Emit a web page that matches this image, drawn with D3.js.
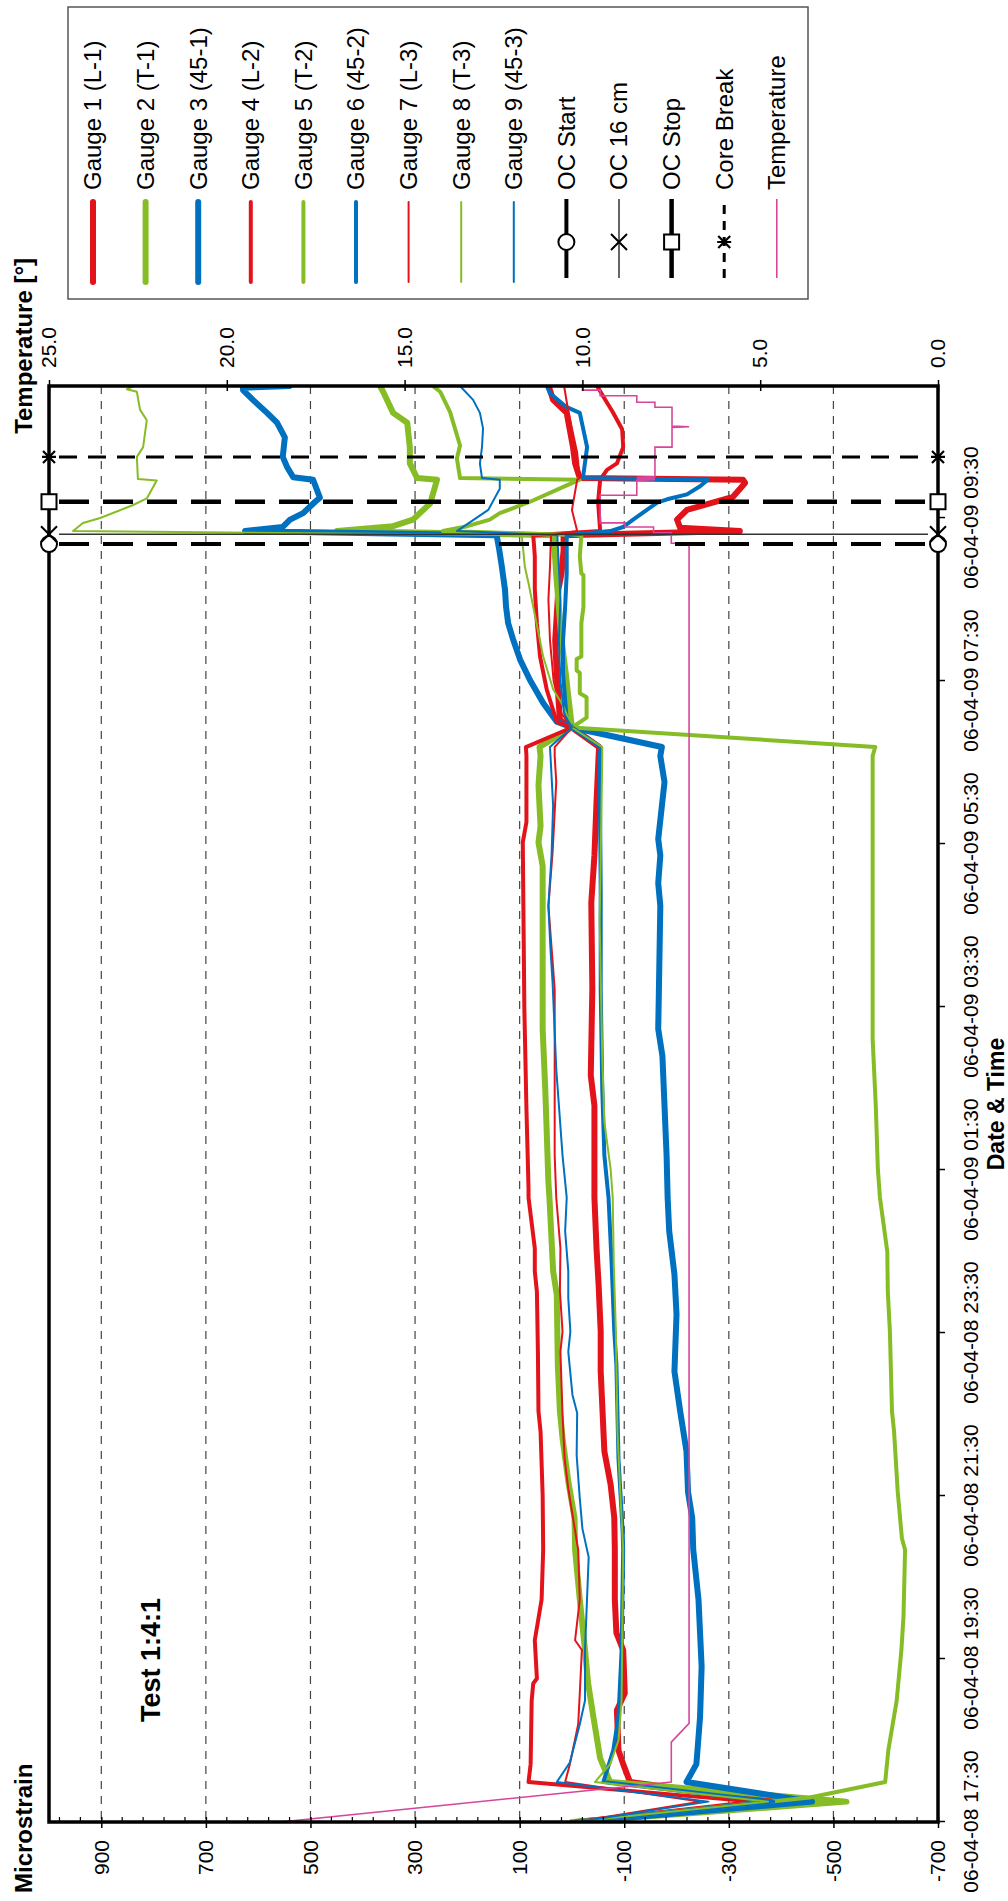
<!DOCTYPE html>
<html>
<head>
<meta charset="utf-8">
<script src="https://cdn.jsdelivr.net/npm/d3@7"></script>
<style>
  body { margin: 0; background: #fff; }
  svg { display: block; }
  text { font-family: "Liberation Sans", Arial, sans-serif; fill: #000; }
</style>
</head>
<body>
<div id="chart"></div>
<script>
// Data: [hours since 06-04-08 17:30, microstrain]
const gauge1 = [[0,-10],[0.25,-391],[0.49,-111],[0.71,-98],[0.88,-89],[1.37,-86],[1.58,-101],[2.11,-98],[2.32,-85],[2.73,-82],[3.34,-82],[3.73,-81],[4.14,-74],[4.55,-62],[5.53,-55],[6.02,-55],[6.59,-51],[7.04,-47],[7.66,-43],[8.79,-43],[9.16,-36],[10.22,-39],[11.28,-37],[11.86,-43],[12.51,-47],[13.08,-51],[13.19,-52],[13.43,0],[13.52,23],[14.09,29],[14.5,32],[15.12,26],[15.32,20],[15.6,16],[15.79,16],[15.84,-321],[15.88,-207],[15.98,-201],[16.1,-220],[16.26,-308],[16.43,-331],[16.47,-327],[16.49,-15],[16.67,-6],[16.87,-2],[17.08,4],[17.29,10],[17.45,36],[17.57,42],[17.62,45]];
const gauge2 = [[0,0],[0.25,-525],[0.49,-73],[0.78,-54],[1.29,-41],[1.7,-31],[2.11,-25],[2.73,-15],[3.34,-6],[3.73,-5],[4.18,7],[4.71,18],[5.04,23],[5.61,27],[6.47,29],[6.76,36],[7.66,43],[7.85,45],[8.99,51],[9.73,56],[11.73,56],[12.02,64],[12.22,60],[12.72,64],[13.08,60],[13.19,62],[13.43,0],[13.7,5],[14.1,12],[14.5,20],[14.9,25],[15.3,30],[15.79,35],[15.84,449],[15.9,342],[15.98,304],[16.18,271],[16.47,258],[16.49,296],[16.67,310],[16.87,310],[17.17,315],[17.29,342],[17.55,361],[17.62,367]];
const gauge3 = [[0,-10],[0.25,-459],[0.49,-219],[0.71,-238],[1.29,-245],[1.91,-248],[2.73,-242],[3.34,-232],[3.73,-230],[4.05,-222],[4.55,-219],[5.04,-207],[5.53,-196],[6.23,-200],[6.72,-196],[7.25,-186],[7.66,-183],[8.18,-181],[9.4,-173],[9.73,-165],[11.24,-169],[11.52,-165],[11.86,-169],[12.06,-165],[12.76,-177],[13.08,-169],[13.19,-172],[13.43,0],[13.5,29],[13.73,55],[14.01,80],[14.26,99],[14.5,112],[14.71,122],[14.91,126],[15.12,128],[15.4,134],[15.61,139],[15.79,144],[15.84,625],[15.89,553],[15.98,539],[16.06,514],[16.2,491],[16.25,482],[16.47,495],[16.5,533],[16.63,545],[16.75,553],[16.99,549],[17.17,564],[17.29,583],[17.45,610],[17.57,629],[17.6,629],[17.62,540]];
const gauge4 = [[0,-5],[0.25,-347],[0.49,83],[0.71,79],[1.49,77],[1.7,74],[1.76,67],[2.23,71],[2.73,58],[3.34,55],[4.01,56],[4.79,60],[5.04,64],[5.73,65],[6.51,67],[6.75,71],[7.04,71],[7.66,83],[7.77,83],[8.75,87],[9.98,91],[12.02,94],[12.27,87],[13.08,87],[13.19,88],[13.43,0],[13.5,29],[13.89,48],[14.3,61],[14.71,67],[15.12,71],[15.53,71],[15.79,74],[15.84,-54],[16.2,-50],[16.47,-54],[16.59,-67],[16.67,-86],[16.87,-98],[17.09,-96],[17.3,-78],[17.5,-59],[17.62,-48]];
const gauge5 = [[0,0],[0.3,-455],[0.49,-599],[0.88,-605],[1.49,-621],[2.11,-630],[2.52,-634],[3.34,-637],[3.48,-631],[4.05,-623],[4.79,-616],[5.04,-612],[5.53,-610],[6.02,-608],[6.51,-604],[7.0,-603],[7.66,-589],[8.01,-585],[8.79,-581],[9.61,-575],[13.08,-575],[13.19,-580],[13.43,0],[13.55,-28],[13.8,-28],[13.85,-15],[14.1,-15],[14.13,-9],[14.27,-9],[14.3,-18],[14.71,-18],[14.91,-22],[15.3,-22],[15.32,-18],[15.53,-15],[15.79,-18],[15.84,247],[15.9,200],[15.98,157],[16.06,138],[16.2,80],[16.4,10],[16.47,-15],[16.49,214],[16.73,220],[16.89,214],[17.3,233],[17.55,252],[17.62,266]];
const gauge6 = [[0,-5],[0.25,-385],[0.49,-60],[0.88,-79],[1.29,-89],[2.11,-95],[3.34,-98],[3.56,-97],[4.46,-89],[5.61,-85],[6.02,-81],[6.84,-76],[7.25,-73],[7.66,-70],[8.18,-62],[8.99,-58],[10.22,-55],[11.45,-55],[13.08,-53],[13.19,-55],[13.43,0],[13.52,10],[14.09,17],[14.5,17],[14.91,13],[15.32,10],[15.79,10],[15.84,-73],[15.89,-98],[15.98,-117],[16.19,-163],[16.23,-182],[16.29,-220],[16.39,-245],[16.47,-260],[16.49,-21],[16.87,-29],[17.29,-15],[17.36,10],[17.53,42],[17.62,48]];
const gauge7 = [[0,-5],[0.25,-245],[0.49,13],[0.71,4],[1.2,-12],[1.58,-15],[2.11,-19],[2.23,-6],[2.73,-15],[3.34,-12],[3.77,-1],[4.09,7],[4.46,14],[5.0,18],[5.77,22],[6.02,18],[6.51,23],[7.04,22],[7.66,30],[8.18,33],[10.22,33],[11.24,45],[11.9,37],[12.76,30],[13.08,33],[13.19,33],[13.43,0],[13.6,20],[14.0,35],[14.5,42],[15.0,45],[15.4,42],[15.79,40],[15.84,-10],[16.1,0],[16.47,-10],[16.49,-15],[16.8,-10],[17.1,0],[17.35,8],[17.62,15]];
const gauge8 = [[0,0],[0.25,-375],[0.49,-44],[0.71,-73],[1.0,-89],[1.49,-95],[3.34,-98],[3.97,-93],[4.79,-87],[6.02,-84],[6.84,-80],[7.66,-78],[8.01,-74],[8.59,-62],[9.4,-58],[11.04,-53],[13.08,-58],[13.19,-58],[13.43,0],[13.7,17],[13.9,36],[14.3,55],[15.2,83],[15.4,90],[15.79,96],[15.84,954],[15.94,935],[16.0,902],[16.16,839],[16.24,813],[16.46,794],[16.48,830],[16.75,832],[16.87,820],[17.2,813],[17.33,826],[17.55,832],[17.58,851],[17.62,839]];
const gauge9 = [[0,-10],[0.25,-261],[0.49,29],[0.73,4],[1.2,-15],[1.49,-25],[2.11,-25],[3.25,-32],[3.6,-20],[3.97,-15],[4.5,-9],[5.02,-10],[5.24,-1],[5.77,7],[6.02,3],[6.43,7],[6.76,7],[7.25,13],[7.66,10],[8.18,18],[9.24,30],[10.3,37],[10.71,41],[11.24,45],[11.86,39],[12.47,36],[13.08,41],[13.19,42],[13.43,0],[13.6,15],[14.0,22],[14.5,25],[15.0,22],[15.4,25],[15.79,28],[15.84,220],[16.1,160],[16.36,138],[16.47,138],[16.49,172],[16.67,176],[16.87,172],[17.1,170],[17.29,176],[17.45,189],[17.62,214]];

// [hours, degrees]
const temperature = [[0,18.5],[0.49,7.5],[0.98,7.5],[1.21,7.0],[15.69,7.0],[15.69,7.5],[15.82,7.5],[15.82,8.0],[15.89,8.0],[15.89,8.8],[15.94,8.8],[15.94,9.5],[16.28,9.5],[16.28,8.47],[16.46,8.47],[16.47,7.96],[16.48,8.47],[16.49,7.96],[16.5,8.47],[16.51,7.96],[16.87,7.96],[16.87,7.48],[17.11,7.48],[17.12,7.0],[17.13,7.48],[17.36,7.48],[17.36,7.96],[17.42,7.96],[17.42,8.47],[17.5,8.47],[17.5,9.5],[17.57,9.5],[17.57,10.0],[17.61,10.0],[17.61,10.5],[17.62,10.9]];

const gaugeNames = ["Gauge 1 (L-1)", "Gauge 2 (T-1)", "Gauge 3 (45-1)", "Gauge 4 (L-2)", "Gauge 5 (T-2)",
  "Gauge 6 (45-2)", "Gauge 7 (L-3)", "Gauge 8 (T-3)", "Gauge 9 (45-3)"];
const gaugeSeries = [gauge1, gauge2, gauge3, gauge4, gauge5, gauge6, gauge7, gauge8, gauge9];

const eventNames = ["OC Start", "OC 16 cm", "OC Stop", "Core Break"];
const eventHours = [15.68, 15.80, 16.20, 16.75];

const strainTicks = d3.range(-700, 901, 200);
const tempTicks = [0, 5, 10, 15, 20, 25];
const timeTickHours = d3.range(0, 17, 2);

// Styles
const red = "#e3131b", green = "#86bc25", blue = "#0070c0", pink = "#d6479b";
const gaugeColors = [red, green, blue, red, green, blue, red, green, blue];
const gaugeWidths = [6, 6, 6, 4, 4, 4, 2, 2, 2];
const eventStyle = [
  { width: 4, dash: "30,14", legendDash: null, color: "#000", marker: "circle" },
  { width: 1.5, dash: null, legendDash: null, color: "#333", marker: "x" },
  { width: 4.5, dash: "30,14", legendDash: null, color: "#000", marker: "square" },
  { width: 3, dash: "18,11", legendDash: "9,7", color: "#000", marker: "star" }
];

// Chart laid out landscape, then turned a quarter turn onto the page
const plot = { left: 79, right: 1515, top: 49, bottom: 938 };
const startTime = new Date(2006, 3, 8, 17, 30);
const at = h => new Date(+startTime + h * 3600e3);

const x = d3.scaleTime().domain([startTime, at(17.62)]).range([plot.left, plot.right]);
const y = d3.scaleLinear().domain([-700, 1000]).range([plot.bottom, plot.top]);
const yT = d3.scaleLinear().domain([0, 25]).range([plot.bottom, plot.top]);

const svg = d3.select("#chart").append("svg")
  .attr("width", 1008)
  .attr("height", 1901);
svg.append("rect").attr("width", 1008).attr("height", 1901).attr("fill", "#fff");

const g = svg.append("g").attr("transform", "translate(0,1901) rotate(-90)");

g.append("defs").append("clipPath").attr("id", "plot-clip")
  .append("rect")
  .attr("x", plot.left).attr("y", plot.top)
  .attr("width", plot.right - plot.left).attr("height", plot.bottom - plot.top);

// Gridlines
g.append("g").selectAll("line")
  .data(strainTicks)
  .join("line")
  .attr("x1", plot.right).attr("x2", plot.left)
  .attr("y1", d => y(d)).attr("y2", d => y(d))
  .attr("stroke", "#444")
  .attr("stroke-width", 1.2)
  .attr("stroke-dasharray", "8,7");

// Series
const line = d3.line()
  .x(d => x(at(d[0])))
  .y(d => y(d[1]));

const lines = g.append("g").attr("clip-path", "url(#plot-clip)");

gaugeSeries.forEach((data, i) => {
  lines.append("path")
    .attr("d", line(data))
    .attr("fill", "none")
    .attr("stroke", gaugeColors[i])
    .attr("stroke-width", gaugeWidths[i])
    .attr("stroke-linejoin", "round")
    .attr("stroke-linecap", "round");
});

const tempLine = d3.line()
  .x(d => x(at(d[0])))
  .y(d => yT(d[1]));

lines.append("path")
  .attr("d", tempLine(temperature))
  .attr("fill", "none")
  .attr("stroke", pink)
  .attr("stroke-width", 1.6);

// Markers
function drawMarker(sel, type, cx, cy) {
  const m = sel.append("g").attr("transform", `translate(${cx},${cy})`);
  if (type === "circle") {
    m.append("circle").attr("r", 8).attr("fill", "#fff").attr("stroke", "#000").attr("stroke-width", 2);
  } else if (type === "square") {
    m.append("rect").attr("x", -7.5).attr("y", -7.5).attr("width", 15).attr("height", 15)
      .attr("fill", "#fff").attr("stroke", "#000").attr("stroke-width", 2);
  } else if (type === "x") {
    m.append("path").attr("d", "M-8,-8L8,8M-8,8L8,-8").attr("stroke", "#000").attr("stroke-width", 2);
  } else {
    m.append("path").attr("d", "M-6,-6L6,6M-6,6L6,-6M0,-7L0,7").attr("stroke", "#000").attr("stroke-width", 2.2);
  }
}

// Event lines
const events = g.append("g");
eventHours.forEach((h, i) => {
  const s = eventStyle[i];
  const ex = x(at(h));
  events.append("line")
    .attr("x1", ex).attr("x2", ex)
    .attr("y1", plot.top + 10).attr("y2", plot.bottom - 10)
    .attr("stroke", s.color)
    .attr("stroke-width", s.width)
    .attr("stroke-dasharray", s.dash);
});

// Plot frame
g.append("rect")
  .attr("x", plot.left).attr("y", plot.top)
  .attr("width", plot.right - plot.left).attr("height", plot.bottom - plot.top)
  .attr("fill", "none")
  .attr("stroke", "#000")
  .attr("stroke-width", 3.5);

eventHours.forEach((h, i) => {
  const ex = x(at(h));
  drawMarker(events, eventStyle[i].marker, ex, plot.top);
  drawMarker(events, eventStyle[i].marker, ex, plot.bottom);
});
events.raise();

// Axes
const fontSize = 21;

const strainAxis = g.append("g")
  .attr("transform", `translate(${plot.left},0)`)
  .call(d3.axisLeft(y).tickValues(strainTicks).tickFormat(d => String(d)).tickSize(6).tickPadding(12))
  .call(a => a.select(".domain").remove());
strainAxis.selectAll(".tick line").attr("x1", 5).attr("stroke-width", 1.5);
strainAxis.selectAll("text").attr("font-size", fontSize).attr("font-family", null);

g.append("g").selectAll("line")
  .data(d3.range(-700, 1001, 40).filter(v => !strainTicks.includes(v)))
  .join("line")
  .attr("x1", plot.left).attr("x2", plot.left + 5)
  .attr("y1", d => y(d)).attr("y2", d => y(d))
  .attr("stroke", "#000").attr("stroke-width", 1.2);

const tempAxis = g.append("g")
  .attr("transform", `translate(${plot.right},0)`)
  .call(d3.axisRight(yT).tickValues(tempTicks).tickFormat(d => d.toFixed(1)).tickSize(6).tickPadding(12))
  .call(a => a.select(".domain").remove());
tempAxis.selectAll(".tick line").attr("x1", -5).attr("stroke-width", 1.5);
tempAxis.selectAll("text").attr("font-size", fontSize).attr("font-family", null);

const timeAxis = g.append("g")
  .attr("transform", `translate(0,${plot.bottom})`)
  .call(d3.axisBottom(x).tickValues(timeTickHours.map(at))
    .tickFormat(d3.timeFormat("%y-%m-%d %H:%M")).tickSize(7).tickPadding(18))
  .call(a => a.select(".domain").remove());
timeAxis.selectAll(".tick line").attr("stroke-width", 1.5);
timeAxis.selectAll("text").attr("font-size", fontSize).attr("font-family", null);

// Titles
g.append("text").attr("x", 8).attr("y", 32)
  .attr("font-size", 24).attr("font-weight", "bold").text("Microstrain");
g.append("text").attr("x", 1643).attr("y", 32).attr("text-anchor", "end")
  .attr("font-size", 24).attr("font-weight", "bold").text("Temperature [°]");
g.append("text").attr("x", (plot.left + plot.right) / 2).attr("y", 1004).attr("text-anchor", "middle")
  .attr("font-size", 23).attr("font-weight", "bold").text("Date & Time");
g.append("text").attr("x", 179).attr("y", 160)
  .attr("font-size", 27).attr("font-weight", "bold").text("Test 1:4:1");

// Legend
const legend = g.append("g");
legend.append("rect")
  .attr("x", 1602).attr("y", 68).attr("width", 292).attr("height", 740)
  .attr("fill", "#fff").attr("stroke", "#555").attr("stroke-width", 1.5);

const rowY = k => 93 + 52.6 * k;

gaugeNames.forEach((name, i) => {
  legend.append("line")
    .attr("x1", 1619).attr("x2", 1699)
    .attr("y1", rowY(i)).attr("y2", rowY(i))
    .attr("stroke", gaugeColors[i])
    .attr("stroke-width", gaugeWidths[i])
    .attr("stroke-linecap", "round");
  legend.append("text").attr("x", 1711).attr("y", rowY(i)).attr("dy", "0.35em")
    .attr("font-size", 24).text(name);
});

eventNames.forEach((name, i) => {
  const s = eventStyle[i];
  const ry = rowY(9 + i);
  legend.append("line")
    .attr("x1", 1623).attr("x2", 1702)
    .attr("y1", ry).attr("y2", ry)
    .attr("stroke", s.color)
    .attr("stroke-width", s.width)
    .attr("stroke-dasharray", s.legendDash);
  drawMarker(legend, s.marker, 1659, ry);
  legend.append("text").attr("x", 1711).attr("y", ry).attr("dy", "0.35em")
    .attr("font-size", 24).text(name);
});

legend.append("line")
  .attr("x1", 1623).attr("x2", 1702)
  .attr("y1", rowY(13)).attr("y2", rowY(13))
  .attr("stroke", pink).attr("stroke-width", 1.6);
legend.append("text").attr("x", 1711).attr("y", rowY(13)).attr("dy", "0.35em")
  .attr("font-size", 24).text("Temperature");
</script>
</body>
</html>
